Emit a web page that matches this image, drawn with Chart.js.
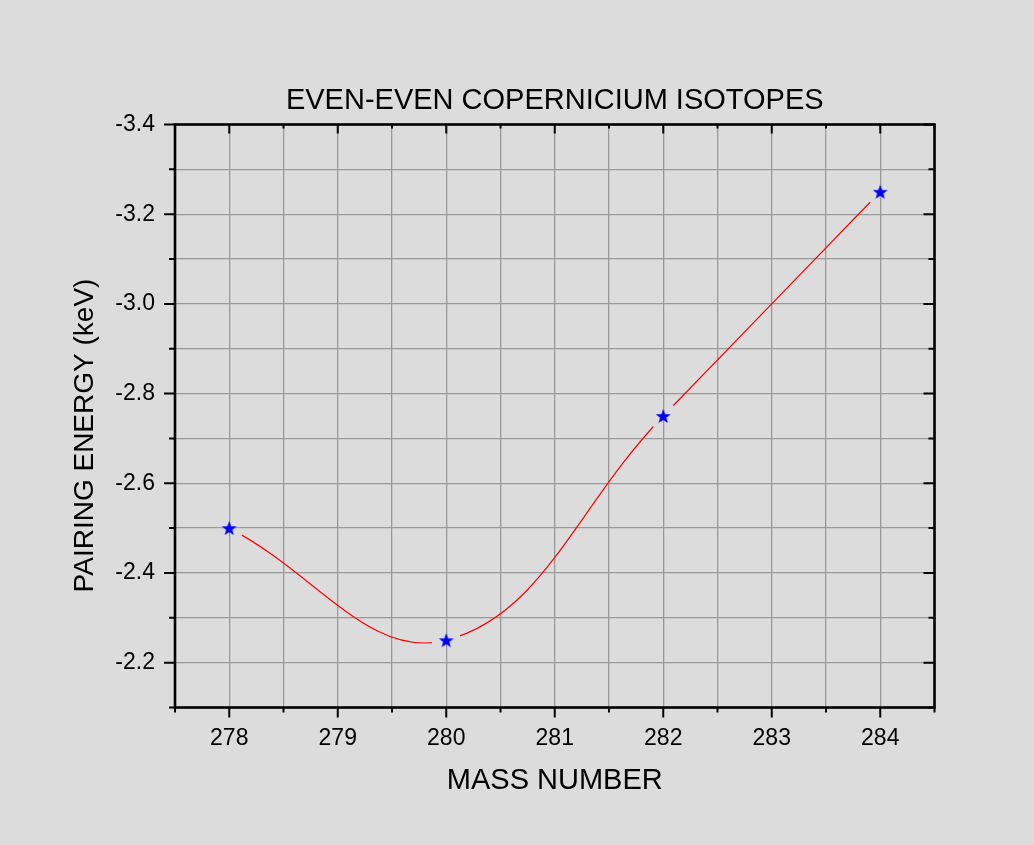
<!DOCTYPE html>
<html>
<head>
<meta charset="utf-8">
<script src="https://cdn.jsdelivr.net/npm/chart.js@4/dist/chart.umd.min.js"></script>
<style>
  html, body { margin: 0; padding: 0; background: #dcdcdc; }
  canvas { display: block; }
</style>
</head>
<body>
<canvas id="pairing" width="1034" height="845"></canvas>
<script>
  // even-even Cn isotopes
  const massNumbers = [278, 280, 282, 284];
  const pairingEnergy = [-2.5, -2.25, -2.75, -3.25];

  // axis tick labels
  const xTickLabels = [278, 279, 280, 281, 282, 283, 284];
  const yTickLabels = [-3.4, -3.2, -3.0, -2.8, -2.6, -2.4, -2.2];

  const FONT = '"Liberation Sans", Arial, sans-serif';
  const Y_TITLE = 'PAIRING ENERGY (keV)';
  const points = massNumbers.map((m, i) => ({ x: m, y: pairingEnergy[i] }));

  // filled 5-point star for the markers
  function makeStar(r, color) {
    const c = document.createElement('canvas');
    const s = Math.ceil(r * 2 + 2);
    c.width = s; c.height = s;
    const g = c.getContext('2d');
    g.translate(s / 2, s / 2 + r * 0.1);
    g.beginPath();
    for (let i = 0; i < 10; i++) {
      const rad = i % 2 === 0 ? r : r * 0.42;
      const a = -Math.PI / 2 + i * Math.PI / 5;
      g[i ? 'lineTo' : 'moveTo'](rad * Math.cos(a), rad * Math.sin(a));
    }
    g.closePath();
    g.fillStyle = color;
    g.fill();
    return c;
  }
  const star = makeStar(7.8, '#0000ff');

  const GAP = 14.5;

  // the curve stops short of each symbol
  const gapPlugin = {
    id: 'gaps',
    beforeDatasetDraw(chart, args) {
      if (args.index !== 0) return;
      const ctx = chart.ctx;
      ctx.save();
      ctx.beginPath();
      ctx.rect(0, 0, chart.width, chart.height);
      chart.getDatasetMeta(1).data.forEach(p => {
        ctx.moveTo(p.x + GAP, p.y);
        ctx.arc(p.x, p.y, GAP, 0, Math.PI * 2, true);
      });
      ctx.clip('evenodd');
    },
    afterDatasetDraw(chart, args) {
      if (args.index === 0) chart.ctx.restore();
    }
  };

  // frame, tick marks on all four sides, y title
  const framePlugin = {
    id: 'frame',
    beforeDraw(chart) {
      const ctx = chart.ctx;
      ctx.save();
      ctx.fillStyle = '#dcdcdc';
      ctx.fillRect(0, 0, chart.width, chart.height);
      ctx.restore();
    },
    afterDraw(chart) {
      const { ctx, chartArea: a, scales: { x, y } } = chart;
      ctx.save();
      ctx.strokeStyle = '#000';
      ctx.lineWidth = 2;
      ctx.beginPath();
      x.ticks.forEach(t => {
        const px = x.getPixelForValue(t.value);
        const major = Math.abs(t.value - Math.round(t.value)) < 1e-6;
        ctx.moveTo(px, a.bottom); ctx.lineTo(px, a.bottom + (major ? 10 : 5));
        ctx.moveTo(px, a.top); ctx.lineTo(px, a.top + (major ? 9 : 4));
      });
      y.ticks.forEach(t => {
        const py = y.getPixelForValue(t.value);
        const major = Math.round(t.value * 10) % 2 === 0;
        ctx.moveTo(a.left, py); ctx.lineTo(a.left - (major ? 11 : 6), py);
        ctx.moveTo(a.right, py); ctx.lineTo(a.right - (major ? 11 : 6), py);
      });
      ctx.stroke();
      ctx.lineWidth = 2.6;
      ctx.strokeRect(a.left, a.top, a.right - a.left, a.bottom - a.top);

      ctx.translate(85, 435.5);
      ctx.rotate(-Math.PI / 2);
      ctx.fillStyle = '#000';
      ctx.font = '28px ' + FONT;
      ctx.textAlign = 'center';
      ctx.textBaseline = 'middle';
      ctx.fillText(Y_TITLE, 0, 0);
      ctx.restore();
    }
  };

  new Chart(document.getElementById('pairing'), {
    type: 'line',
    data: {
      datasets: [
        {
          label: 'curve',
          data: points,
          borderColor: '#ff0000',
          borderWidth: 1.2,
          pointRadius: 0,
          tension: 0.4,
          fill: false
        },
        {
          label: 'Cn',
          data: points,
          showLine: false,
          pointStyle: star,
          pointRadius: 8
        }
      ]
    },
    options: {
      responsive: false,
      animation: false,
      devicePixelRatio: 1,
      layout: { padding: { left: 70, right: 99.5, top: 83.7, bottom: 46.5 } },
      plugins: {
        legend: { display: false },
        tooltip: { enabled: false },
        title: {
          display: true,
          text: 'EVEN-EVEN COPERNICIUM ISOTOPES',
          color: '#000',
          fullSize: false,
          font: { family: FONT, size: 29, weight: 'normal' },
          padding: { top: 0, bottom: 6 }
        }
      },
      scales: {
        x: {
          type: 'linear',
          min: 277.5,
          max: 284.5,
          afterFit(s) { s.height = 91; },
          ticks: {
            stepSize: 0.5,
            autoSkip: false,
            maxRotation: 0,
            padding: 17,
            color: '#000',
            font: { family: FONT, size: 23 },
            callback: v => xTickLabels.includes(v) ? String(v) : ''
          },
          grid: { color: '#999', lineWidth: 1.3, drawTicks: false },
          border: { display: false },
          title: {
            display: true,
            text: 'MASS NUMBER',
            color: '#000',
            font: { family: FONT, size: 29 },
            padding: 0
          }
        },
        y: {
          type: 'linear',
          min: -3.4,
          max: -2.1,
          reverse: true,
          afterFit(s) { s.width = 105; },
          ticks: {
            stepSize: 0.1,
            autoSkip: false,
            padding: 20,
            color: '#000',
            font: { family: FONT, size: 23 },
            callback: v => {
              const k = Math.round(v * 10);
              return yTickLabels.some(l => Math.round(l * 10) === k) ? (k / 10).toFixed(1) : '';
            }
          },
          grid: { color: '#999', lineWidth: 1.3, drawTicks: false },
          border: { display: false }
        }
      }
    },
    plugins: [gapPlugin, framePlugin]
  });
</script>
</body>
</html>
